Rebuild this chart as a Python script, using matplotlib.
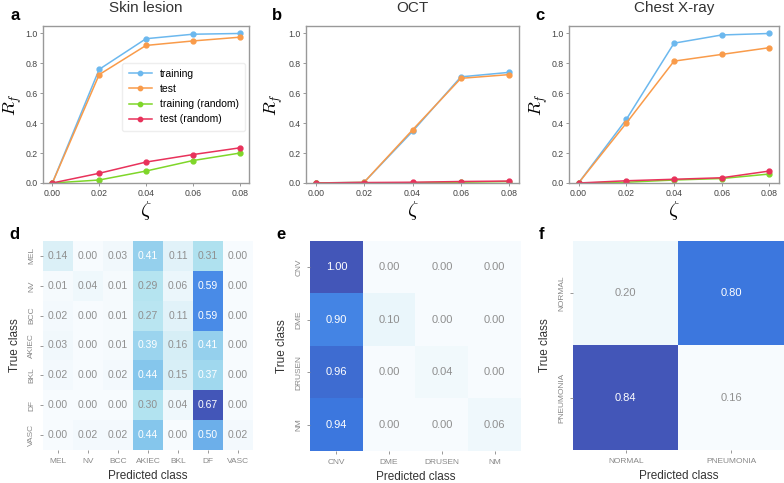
import numpy as np
import matplotlib
matplotlib.use('Agg')
import matplotlib.pyplot as plt
from matplotlib.colors import LinearSegmentedColormap

plt.rcParams['font.family'] = ['Liberation Sans', 'DejaVu Sans']
plt.rcParams['mathtext.fontset'] = 'cm'

zeta = [0.00, 0.02, 0.04, 0.06, 0.08]

skin_train = [0.0, 0.76, 0.965, 0.995, 1.0]
skin_test = [0.0, 0.725, 0.92, 0.95, 0.975]
skin_train_rand = [0.0, 0.02, 0.08, 0.15, 0.20]
skin_test_rand = [0.0, 0.065, 0.14, 0.19, 0.235]

oct_train = [0.0, 0.005, 0.345, 0.71, 0.74]
oct_test = [0.0, 0.005, 0.355, 0.70, 0.725]
oct_train_rand = [0.0, 0.0, 0.002, 0.005, 0.01]
oct_test_rand = [0.0, 0.003, 0.005, 0.01, 0.013]

chest_train = [0.0, 0.425, 0.935, 0.99, 1.0]
chest_test = [0.0, 0.40, 0.815, 0.86, 0.905]
chest_train_rand = [0.0, 0.005, 0.02, 0.03, 0.06]
chest_test_rand = [0.0, 0.015, 0.025, 0.035, 0.08]

skin_classes = ['MEL', 'NV', 'BCC', 'AKIEC', 'BKL', 'DF', 'VASC']
skin_cm = [[0.14, 0.00, 0.03, 0.41, 0.11, 0.31, 0.00],
           [0.01, 0.04, 0.01, 0.29, 0.06, 0.59, 0.00],
           [0.02, 0.00, 0.01, 0.27, 0.11, 0.59, 0.00],
           [0.03, 0.00, 0.01, 0.39, 0.16, 0.41, 0.00],
           [0.02, 0.00, 0.02, 0.44, 0.15, 0.37, 0.00],
           [0.00, 0.00, 0.00, 0.30, 0.04, 0.67, 0.00],
           [0.00, 0.02, 0.02, 0.44, 0.00, 0.50, 0.02]]

oct_classes = ['CNV', 'DME', 'DRUSEN', 'NM']
oct_cm = [[1.00, 0.00, 0.00, 0.00],
          [0.90, 0.10, 0.00, 0.00],
          [0.96, 0.00, 0.04, 0.00],
          [0.94, 0.00, 0.00, 0.06]]

chest_classes = ['NORMAL', 'PNEUMONIA']
chest_cm = [[0.20, 0.80],
            [0.84, 0.16]]

c_train = '#6cb8ee'
c_test = '#f99b4a'
c_train_rand = '#7fd629'
c_test_rand = '#e8325b'

cmap = LinearSegmentedColormap.from_list('blues', [
    (0.0, '#f7fbfe'), (0.2, '#ddf1f8'), (0.45, '#b2e3f0'), (0.6, '#99d3ee'),
    (0.68, '#7fc2ec'), (0.88, '#4a8ce8'), (0.94, '#3c78df'), (1.0, '#4356b8')])

W, H = 784, 483
fig = plt.figure(figsize=(W / 100, H / 100), dpi=100)


def px_axes(x0, y0, x1, y1):
    return fig.add_axes([x0 / W, 1 - y1 / H, (x1 - x0) / W, (y1 - y0) / H])


def curve_panel(ax, series, title, letter, ylab_px, legend=False):
    labels = ['training', 'test', 'training (random)', 'test (random)']
    colors = [c_train, c_test, c_train_rand, c_test_rand]
    for ys, lab, col in zip(series, labels, colors):
        ax.plot(zeta, ys, marker='o', ms=3.5, lw=1.1, color=col, label=lab)
    ax.set_ylim(0, 1.05)
    ax.set_xlim(-0.004, 0.084)
    ax.set_xticks(zeta)
    ax.set_xticklabels(['%.2f' % z for z in zeta])
    ax.set_yticks(np.arange(0, 1.01, 0.2))
    ax.tick_params(labelsize=6.3, length=2.5, width=0.6, colors='#888888', labelcolor='#444444', pad=1.5)
    for s in ax.spines.values():
        s.set_color('#999999')
        s.set_linewidth(1.0)
    ax.set_xlabel(r'$\zeta$', fontsize=15, labelpad=1)
    # y label placed by pixel offset from the left spine
    ax.set_ylabel(r'$R_f$', fontsize=13)
    ax.yaxis.set_label_coords(-ylab_px / (ax.get_position().width * W), 0.5)
    ax.set_title(title, fontsize=11, color='#333333', pad=10)
    ax.text(-0.16, 1.07, letter, transform=ax.transAxes, fontsize=12, fontweight='bold', va='center')
    if legend:
        ax.legend(loc='upper left', bbox_to_anchor=(0.36, 0.8), fontsize=7.5, frameon=True,
                  edgecolor='#eeeeee', framealpha=1, handlelength=2.2, borderpad=0.6,
                  labelspacing=0.5, markerscale=0.9)


def heat_panel(ax, cm, classes, letter, fs, tick_fs):
    cm = np.array(cm)
    ax.imshow(cm, cmap=cmap, vmin=cm.min(), vmax=cm.max(), aspect='auto')
    n = len(classes)
    norm = (cm - cm.min()) / (cm.max() - cm.min())
    for i in range(n):
        for j in range(n):
            col = 'white' if norm[i, j] > 0.52 else '#8f8f8f'
            ax.text(j, i, '%.2f' % cm[i, j], ha='center', va='center', fontsize=fs, color=col)
    ax.set_xticks(range(n))
    ax.set_xticklabels(classes, fontsize=tick_fs, color='#444444')
    ax.set_yticks(range(n))
    ax.set_yticklabels(classes, fontsize=tick_fs, color='#444444', rotation=90, va='center')
    ax.tick_params(length=2.5, width=0.6, colors='#888888', pad=3)
    for s in ax.spines.values():
        s.set_visible(False)
    ax.set_xlabel('Predicted class', fontsize=8.5, color='#333333', labelpad=4)
    ax.set_ylabel('True class', fontsize=8.5, color='#333333', labelpad=5)
    ax.text(-0.16, 1.03, letter, transform=ax.transAxes, fontsize=12, fontweight='bold', va='center')


ax_a = px_axes(43, 26, 249, 183)
curve_panel(ax_a, [skin_train, skin_test, skin_train_rand, skin_test_rand], 'Skin lesion', 'a',
            19, legend=True)
ax_b = px_axes(306, 26, 519, 183)
curve_panel(ax_b, [oct_train, oct_test, oct_train_rand, oct_test_rand], 'OCT', 'b', 21)
ax_c = px_axes(569, 26, 779, 183)
curve_panel(ax_c, [chest_train, chest_test, chest_train_rand, chest_test_rand], 'Chest X-ray', 'c', 19)

ax_d = px_axes(43, 241, 253, 450)
heat_panel(ax_d, skin_cm, skin_classes, 'd', 7.5, 6)
ax_e = px_axes(310, 241, 521, 451)
heat_panel(ax_e, oct_cm, oct_classes, 'e', 8, 6)
ax_f = px_axes(573, 241, 784, 450)
heat_panel(ax_f, chest_cm, chest_classes, 'f', 8, 6)

fig.savefig('out.png', dpi=100)
